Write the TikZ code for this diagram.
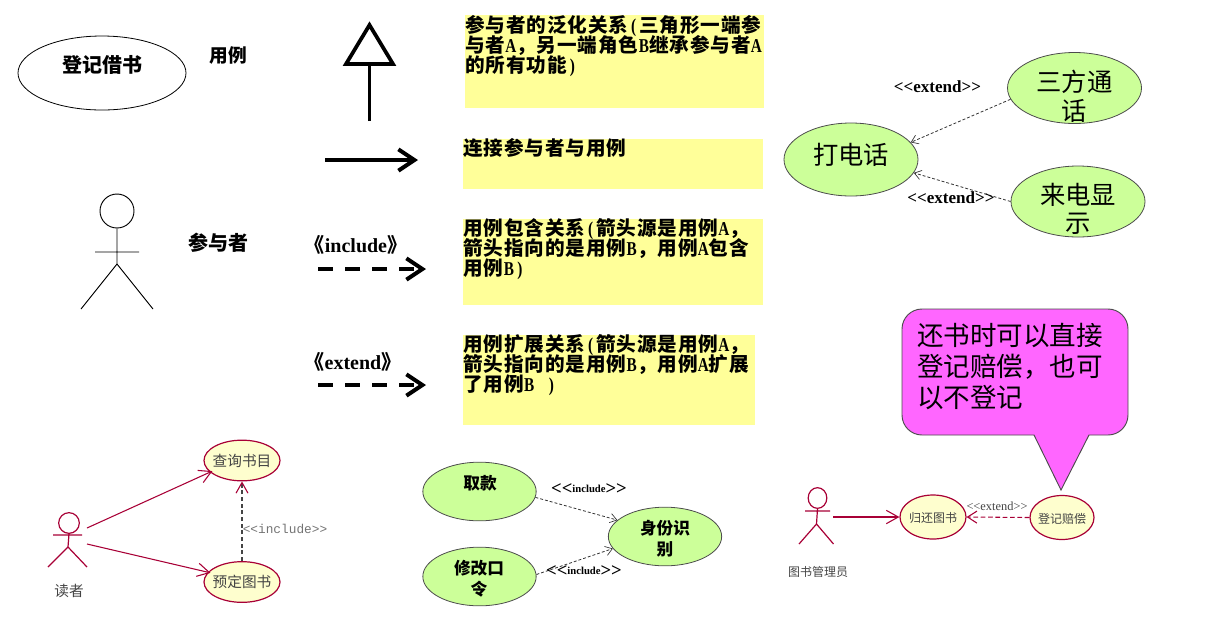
\documentclass[tikz,border=0pt]{standalone}
\usepackage{fontspec}
\setmainfont{Noto Sans CJK SC}
\newfontfamily\notefont[LetterSpace=4.5]{Noto Sans CJK SC}
\newfontfamily\lat[FakeStretch=0.78]{Liberation Serif}
\newfontfamily\ser{Liberation Serif}
\newfontfamily\mon{Liberation Mono}
\usetikzlibrary{shapes.geometric,arrows.meta}
\setlength\lineskiplimit{-30pt}
\definecolor{noteyellow}{HTML}{FFFF99}
\definecolor{casegreen}{HTML}{CCFF99}
\definecolor{umlred}{HTML}{A80036}
\definecolor{umlfill}{HTML}{FEFECE}
\definecolor{calloutpink}{HTML}{FF66FF}
\definecolor{umltext}{HTML}{444444}
\newcommand\la[1]{\makebox[8.25pt]{\lat #1}}
\tikzset{
  x=0.75pt,y=-0.75pt,
  notebox/.style={fill=noteyellow,draw=none,inner sep=0,anchor=north west},
  notetext/.style={inner sep=0,anchor=north west,align=left,font=\notefont\bfseries\fontsize{14.7}{14.9}\selectfont},
  ucplain/.style={ellipse,draw=black,line width=0.6pt,fill=white,inner sep=0},
  ucgreen/.style={ellipse,draw=black!70,line width=0.6pt,fill=casegreen,inner sep=0},
  ucuml/.style={ellipse,draw=umlred,line width=0.9pt,fill=umlfill,inner sep=0},
  lbl/.style={inner sep=0,align=center},
  bigbar/.style={line width=3pt,-{Straight Barb[length=12pt,width=16pt,line width=3pt]}},
  bigdash/.style={bigbar,dash pattern=on 11.25pt off 9pt},
  thindash/.style={line width=0.6pt,draw=black!80,dash pattern=on 2.2pt off 1.5pt,-{Straight Barb[length=5pt,width=7pt,line width=0.5pt]}},
  umlarrow/.style={line width=0.8pt,draw=umlred,-{Straight Barb[length=9pt,width=10pt,line width=0.8pt]}},
  actorline/.style={line width=0.9pt,draw=umlred},
}
\begin{document}
\begin{tikzpicture}
\useasboundingbox (0,0) rectangle (1206,622);
% legend shapes
\node[ucplain,minimum width=126pt,minimum height=55.5pt] (jie) at (102,73) {};
\node[lbl,font=\bfseries\fontsize{15}{15}\selectfont] at (102,65) {登记借书};
\node[lbl,font=\bfseries\fontsize{14}{14}\selectfont] (yl) at (228,55) {用例};
\node[lbl,font=\bfseries\fontsize{15}{15}\selectfont] (cyz) at (218,243) {参与者};
% big actor
\node[circle,draw=black,line width=0.7pt,minimum size=25.5pt,inner sep=0] (bh) at (117,211) {};
\coordinate (bb) at (117,264);
\coordinate (bal) at (95,252);
\coordinate (bar) at (139,252);
\coordinate (bll) at (81,309);
\coordinate (blr) at (153,309);
\draw[line width=0.7pt] (bh.south) -- (bb) (bal) -- (bar) (bll) -- (bb) -- (blr);
% generalisation
\coordinate (ta) at (369.5,25);
\coordinate (tl) at (346,64);
\coordinate (tr) at (393,64);
\coordinate (tb) at (369.5,64);
\coordinate (te) at (369.5,121);
\draw[line width=2.8pt,miter limit=10] (ta) -- (tr) -- (tl) -- cycle;
\draw[line width=2.8pt] (te) -- (tb);
% association
\coordinate (a1) at (325,160);
\coordinate (a2) at (418,160);
\draw[bigbar] (a1) -- (a2);
% include/extend
\node[lbl,font=\bfseries\fontsize{15}{15}\selectfont] (inc) at (356,245) {《{\ser include}》};
\coordinate (i1) at (318,269);
\coordinate (i2) at (426,269);
\draw[bigdash] (i1) -- (i2);
\node[lbl,font=\bfseries\fontsize{15}{15}\selectfont] (ext) at (353,362) {《{\ser extend}》};
\coordinate (e1) at (318,385);
\coordinate (e2) at (426,385);
\draw[bigdash] (e1) -- (e2);
% notes
\node[notebox,minimum width=224.25pt,minimum height=69.75pt] (n1) at (465,15) {};
\node[notebox,minimum width=225pt,minimum height=37.5pt] (n2) at (463,139) {};
\node[notebox,minimum width=225pt,minimum height=64.5pt] (n3) at (463,219) {};
\node[notebox,minimum width=219pt,minimum height=67.5pt] (n4) at (463,335) {};
\node[notetext] at (465,15) {参与者的泛化关系\la{(}三角形一端参\\与者\la{A}，另一端角色\la{B}继承参与者\la{A}\\的所有功能\la{)}};
\node[notetext] at (463,138) {连接参与者与用例};
\node[notetext] at (463,218) {用例包含关系\la{(}箭头源是用例\la{A}，\\箭头指向的是用例\la{B}，用例\la{A}包含\\用例\la{B}\la{)}};
\node[notetext] at (463,334) {用例扩展关系\la{(}箭头源是用例\la{A}，\\箭头指向的是用例\la{B}，用例\la{A}扩展\\了用例\la{B}\hspace{8.25pt}\la{)}};
% phone
\node[ucgreen,minimum width=100.5pt,minimum height=54.75pt] (call) at (851,159.5) {};
\node[ucgreen,minimum width=100.5pt,minimum height=53.25pt] (three) at (1074.5,88) {};
\node[ucgreen,minimum width=100.5pt,minimum height=53.25pt] (show) at (1078,201.5) {};
\node[lbl,font=\fontsize{19}{21.5}\selectfont] at (851,155) {打电话};
\node[lbl,font=\fontsize{19}{21.5}\selectfont] at (1074.5,96) {三方通\\话};
\node[lbl,font=\fontsize{19}{21.5}\selectfont] at (1078,209) {来电显\\示};
\draw[thindash] (three.190) -- (call.16);
\draw[thindash] (show.west) -- (call.-12);
\node[lbl,font=\bfseries\ser\fontsize{12.8}{12.8}\selectfont] at (937.5,87) {<{}<extend>{}>};
\node[lbl,font=\bfseries\ser\fontsize{12.8}{12.8}\selectfont] at (951,198) {<{}<extend>{}>};
% callout
\coordinate (ctip) at (1061,490);
\path[draw=black!70,line width=0.7pt,fill=calloutpink] (1034,435) [rounded corners=15pt] -- (902,435) -- (902,309) -- (1128,309) -- (1128,435) [sharp corners] -- (1089,435) -- (ctip) -- cycle;
\node[lbl,align=left,anchor=north west,font=\fontsize{19.9}{23.25}\selectfont] (ctext) at (917,323) {还书时可以直接\\登记赔偿，也可\\以不登记};
% lower left
\node[ucuml,minimum width=57pt,minimum height=30.5pt] (query) at (242,460.5) {};
\node[ucuml,minimum width=57pt,minimum height=30.5pt] (book) at (242,582) {};
\node[lbl,font=\fontsize{11}{11}\selectfont,text=umltext] at (242,461) {查询书目};
\node[lbl,font=\fontsize{11}{11}\selectfont,text=umltext] at (242,582) {预定图书};
\node[circle,actorline,minimum size=15.5pt,inner sep=0] (rh) at (69,523) {};
\coordinate (rb) at (68,547);
\coordinate (ral) at (53,535);
\coordinate (rar) at (82,535);
\coordinate (rll) at (48,567);
\coordinate (rlr) at (87,567);
\draw[actorline] (rh.south) -- (rb) (ral) -- (rar) (rll) -- (rb) -- (rlr);
\node[lbl,font=\fontsize{11}{11}\selectfont,text=umltext] at (69,591) {读者};
\coordinate (r1) at (87,528);
\coordinate (r2) at (87,544);
\draw[umlarrow,shorten >=-2pt] (r1) -- (query.200);
\draw[umlarrow,shorten >=-2pt] (r2) -- (book.164);
\draw[line width=1pt,draw=umltext,dash pattern=on 3pt off 2pt,-{Straight Barb[length=8pt,width=9pt,line width=0.8pt,color=umlred]}] (book) -- (query);
\node[lbl,font=\mon\fontsize{9.6}{9.6}\selectfont,text=umltext!75] at (285,529) {<{}<include>{}>};
% atm
\node[ucgreen,minimum width=85pt,minimum height=44pt] (take) at (479.5,491.5) {};
\node[ucgreen,minimum width=85pt,minimum height=44pt] (pwd) at (479.5,576.5) {};
\node[ucgreen,minimum width=85pt,minimum height=44pt] (id) at (665,536.5) {};
\node[lbl,font=\bfseries\fontsize{12.5}{12.5}\selectfont] at (480,483) {取款};
\node[lbl,font=\bfseries\fontsize{12.5}{16}\selectfont] at (479,579) {修改口\\令};
\node[lbl,font=\bfseries\fontsize{12.5}{16}\selectfont] at (665,539) {身份识\\别};
\draw[thindash] (take.-6) -- (id.161);
\draw[thindash] (pwd.2) -- (id.193);
\node[lbl,font=\bfseries\ser\fontsize{14}{14}\selectfont] at (589,489) {<{}<{\fontsize{8}{8}\selectfont\raisebox{1.5pt}{include}}>{}>};
\node[lbl,font=\bfseries\ser\fontsize{14}{14}\selectfont] at (584,571.5) {<{}<{\fontsize{8}{8}\selectfont\raisebox{1.5pt}{include}}>{}>};
% lower right
\node[ucuml,minimum width=49.5pt,minimum height=33pt] (ret) at (933,517) {};
\node[ucuml,minimum width=48pt,minimum height=33pt] (pay) at (1062,517.5) {};
\node[lbl,font=\fontsize{9}{9}\selectfont,text=umltext] at (933,518) {归还图书};
\node[lbl,font=\fontsize{9}{9}\selectfont,text=umltext] at (1062,519) {登记赔偿};
\node[ellipse,actorline,minimum width=14pt,minimum height=15.5pt,inner sep=0] (lh) at (817.5,498) {};
\coordinate (lb) at (816.5,524);
\coordinate (lal) at (805,511);
\coordinate (lar) at (830,511);
\coordinate (lll) at (799,544);
\coordinate (llr) at (833.5,544);
\draw[actorline] (lh.south) -- (lb) (lal) -- (lar) (lll) -- (lb) -- (llr);
\node[lbl,font=\fontsize{9}{9}\selectfont,text=umltext] at (818,572) {图书管理员};
\coordinate (l1) at (833,517);
\draw[umlarrow] (l1) -- (ret.west);
\draw[umlarrow,dash pattern=on 3.5pt off 2pt,-{Straight Barb[length=7pt,width=9pt,line width=0.8pt]}] (pay.west) -- (ret.east);
\node[lbl,font=\ser\fontsize{9.3}{9.3}\selectfont,text=umltext] at (997,506) {<{}<extend>{}>};
\end{tikzpicture}
\end{document}
